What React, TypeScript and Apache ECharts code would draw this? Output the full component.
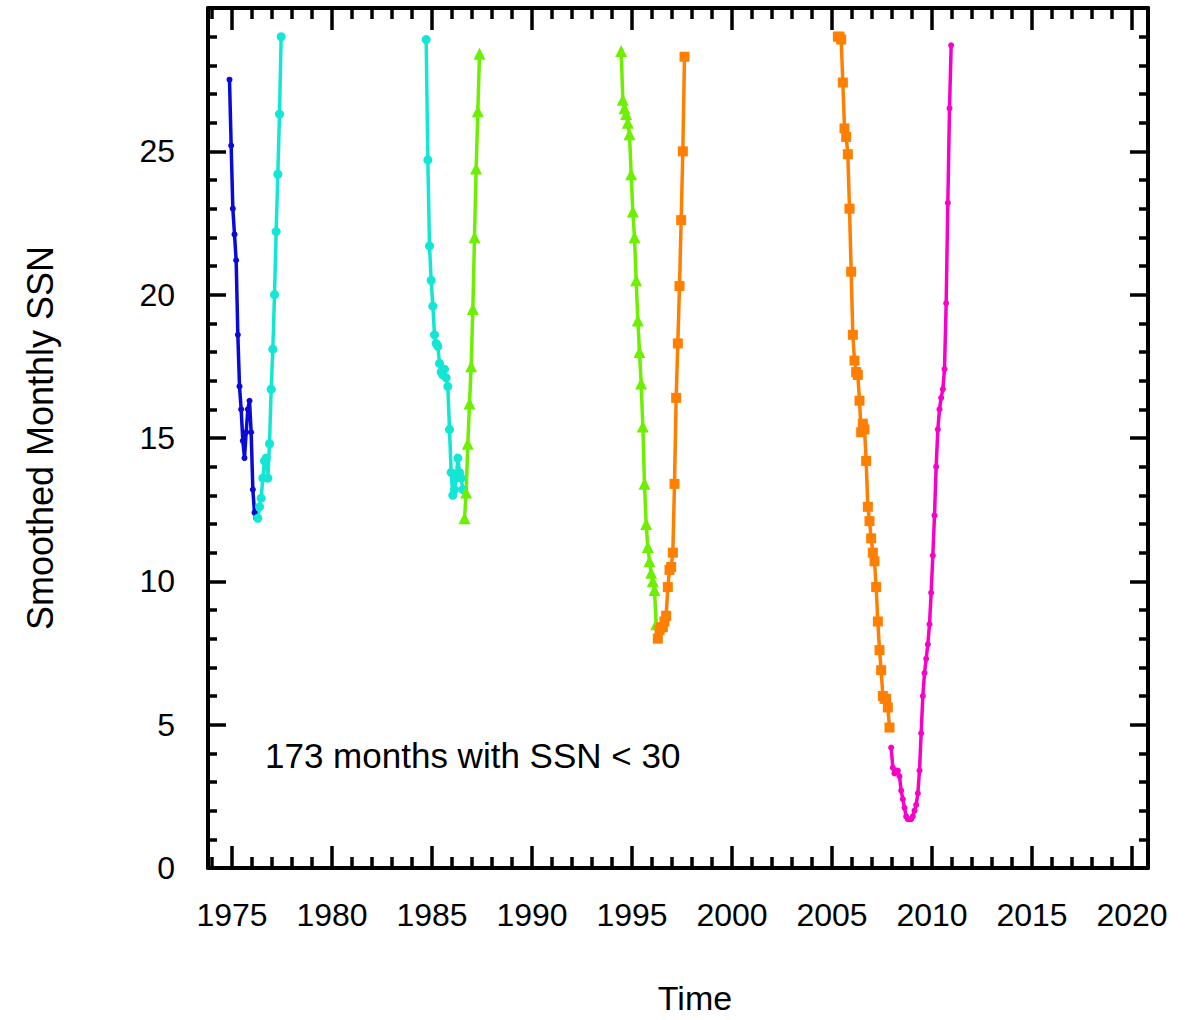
import { useEffect, useRef } from "react";
import * as echarts from "echarts";

// Smoothed monthly sunspot number for every month below 30, grouped by solar cycle.
// Years are mid-month decimal dates.

const cycle20Years = [
  1974.875, 1974.958, 1975.042, 1975.125, 1975.208, 1975.292, 1975.375, 1975.458, 1975.542,
  1975.625, 1975.708, 1975.792, 1975.875, 1975.958, 1976.042, 1976.125, 1976.208,
];
const cycle20Ssn = [
  27.5, 25.2, 23.0, 22.1, 21.2, 18.6, 16.8, 16.0, 14.9, 14.3, 15.2, 16.0, 16.3, 15.2, 13.2, 12.4, 12.2,
];

const cycle21RiseYears = [
  1976.292, 1976.375, 1976.458, 1976.542, 1976.625, 1976.708, 1976.792, 1976.875, 1976.958,
  1977.042, 1977.125, 1977.208, 1977.292, 1977.375, 1977.458,
];
const cycle21RiseSsn = [
  12.2, 12.6, 12.9, 13.6, 14.2, 14.3, 13.6, 14.8, 16.7, 18.1, 20.0, 22.2, 24.2, 26.3, 29.0,
];

const cycle21FallYears = [
  1984.708, 1984.792, 1984.875, 1984.958, 1985.042, 1985.125, 1985.208, 1985.292, 1985.375,
  1985.458, 1985.542, 1985.625, 1985.708, 1985.792, 1985.875, 1985.958, 1986.042, 1986.125,
  1986.208, 1986.292, 1986.375, 1986.458, 1986.542,
];
const cycle21FallSsn = [
  28.9, 24.7, 21.7, 20.5, 19.6, 18.6, 18.3, 18.2, 17.6, 17.3, 17.2, 17.4, 17.1, 16.8, 15.3, 13.8,
  13.0, 13.2, 13.6, 14.3, 13.8, 13.6, 13.2,
];

const cycle22RiseYears = [
  1986.625, 1986.708, 1986.792, 1986.875, 1986.958, 1987.042, 1987.125, 1987.208, 1987.292, 1987.375,
];
const cycle22RiseSsn = [12.2, 13.1, 14.8, 16.2, 17.5, 19.5, 22.0, 24.4, 26.4, 28.4];

const cycle22FallYears = [
  1994.458, 1994.542, 1994.625, 1994.708, 1994.792, 1994.875, 1994.958, 1995.042, 1995.125,
  1995.208, 1995.292, 1995.375, 1995.458, 1995.542, 1995.625, 1995.708, 1995.792, 1995.875,
  1995.958, 1996.042, 1996.125, 1996.208,
];
const cycle22FallSsn = [
  28.5, 26.8, 26.5, 26.3, 26.0, 25.6, 24.2, 22.9, 22.0, 20.5, 19.1, 18.0, 16.9, 15.4, 13.4, 12.0,
  11.2, 10.7, 10.3, 10.0, 9.7, 8.5,
];

const cycle23RiseYears = [
  1996.292, 1996.375, 1996.458, 1996.542, 1996.625, 1996.708, 1996.792, 1996.875, 1996.958,
  1997.042, 1997.125, 1997.208, 1997.292, 1997.375, 1997.458, 1997.542, 1997.625,
];
const cycle23RiseSsn = [
  8.0, 8.3, 8.4, 8.4, 8.6, 8.8, 9.8, 10.4, 10.5, 11.0, 13.4, 16.4, 18.3, 20.3, 22.6, 25.0, 28.3,
];

const cycle23FallYears = [
  2005.292, 2005.375, 2005.458, 2005.542, 2005.625, 2005.708, 2005.792, 2005.875, 2005.958,
  2006.042, 2006.125, 2006.208, 2006.292, 2006.375, 2006.458, 2006.542, 2006.625, 2006.708,
  2006.792, 2006.875, 2006.958, 2007.042, 2007.125, 2007.208, 2007.292, 2007.375, 2007.458,
  2007.542, 2007.625, 2007.708, 2007.792, 2007.875,
];
const cycle23FallSsn = [
  29.0, 29.0, 28.9, 27.4, 25.8, 25.5, 24.9, 23.0, 20.8, 18.6, 17.7, 17.3, 17.2, 16.3, 15.2, 15.5,
  15.3, 14.2, 12.6, 12.1, 11.5, 11.0, 10.7, 9.8, 8.6, 7.6, 6.9, 6.0, 5.9, 5.9, 5.6, 4.9,
];

const cycle24Years = [
  2007.958, 2008.042, 2008.125, 2008.208, 2008.292, 2008.375, 2008.458, 2008.542, 2008.625,
  2008.708, 2008.792, 2008.875, 2008.958, 2009.042, 2009.125, 2009.208, 2009.292, 2009.375,
  2009.458, 2009.542, 2009.625, 2009.708, 2009.792, 2009.875, 2009.958, 2010.042, 2010.125,
  2010.208, 2010.292, 2010.375, 2010.458, 2010.542, 2010.625, 2010.708, 2010.792, 2010.875,
  2010.958,
];
const cycle24Ssn = [
  4.2, 3.5, 3.3, 3.4, 3.4, 3.2, 2.7, 2.4, 2.1, 1.8, 1.7, 1.7, 1.7, 1.8, 2.0, 2.2, 2.6, 3.4, 4.7,
  6.0, 6.8, 7.3, 7.8, 8.5, 9.6, 10.9, 12.3, 14.0, 15.3, 16.0, 16.4, 16.7, 17.4, 19.7, 23.2, 26.5,
  28.7,
];

const xTickYears = [1975, 1980, 1985, 1990, 1995, 2000, 2005, 2010, 2015, 2020];
const yTickValues = [0, 5, 10, 15, 20, 25];

const X_MIN = 1973.8;
const X_MAX = 2020.8;
const Y_MIN = 0;
const Y_MAX = 30;
const SSN_LIMIT = 30;

const FONT = "'Liberation Sans', Arial, Helvetica, sans-serif";
const BLUE = "#0a0ad8";
const CYAN = "#12e6d4";
const GREEN = "#6cf000";
const ORANGE = "#ff7f00";
const MAGENTA = "#f800c8";

type Segment = {
  name: string;
  years: number[];
  ssn: number[];
  color: string;
  symbol: string;
  size: number;
};

const segments: Segment[] = [
  { name: "Cycle 20", years: cycle20Years, ssn: cycle20Ssn, color: BLUE, symbol: "circle", size: 6 },
  { name: "Cycle 21", years: cycle21RiseYears, ssn: cycle21RiseSsn, color: CYAN, symbol: "circle", size: 9 },
  { name: "Cycle 21", years: cycle21FallYears, ssn: cycle21FallSsn, color: CYAN, symbol: "circle", size: 9 },
  { name: "Cycle 22", years: cycle22RiseYears, ssn: cycle22RiseSsn, color: GREEN, symbol: "triangle", size: 12 },
  { name: "Cycle 22", years: cycle22FallYears, ssn: cycle22FallSsn, color: GREEN, symbol: "triangle", size: 12 },
  { name: "Cycle 23", years: cycle23RiseYears, ssn: cycle23RiseSsn, color: ORANGE, symbol: "rect", size: 10 },
  { name: "Cycle 23", years: cycle23FallYears, ssn: cycle23FallSsn, color: ORANGE, symbol: "rect", size: 10 },
  { name: "Cycle 24", years: cycle24Years, ssn: cycle24Ssn, color: MAGENTA, symbol: "circle", size: 6 },
];

const monthCount = segments.reduce((n, s) => n + s.ssn.length, 0);

export default function App() {
  const ref = useRef<HTMLDivElement>(null);

  useEffect(() => {
    if (!ref.current) return;
    const chart = echarts.init(ref.current, null, { renderer: "svg" });

    const frame = { color: "#000", width: 4 };
    const tick = { color: "#000", width: 3.5 };
    const isXTick = (v: number) => xTickYears.some((t) => Math.abs(t - v) < 1e-6);
    const isYTick = (v: number) => yTickValues.some((t) => Math.abs(t - v) < 1e-6);

    const xCommon = {
      type: "value",
      min: X_MIN,
      max: X_MAX,
      minInterval: 5,
      maxInterval: 5,
      axisLine: { show: true, onZero: false, lineStyle: frame },
      axisTick: { show: true, inside: true, length: 22, lineStyle: tick },
      minorTick: { show: true, splitNumber: 5, length: 11, lineStyle: tick },
      splitLine: { show: false },
      minorSplitLine: { show: false },
    };
    const yCommon = {
      type: "value",
      min: Y_MIN,
      max: Y_MAX,
      interval: 5,
      axisLine: { show: true, onZero: false, lineStyle: frame },
      axisTick: { show: true, inside: true, length: 18, lineStyle: tick },
      minorTick: { show: true, splitNumber: 5, length: 9, lineStyle: tick },
      splitLine: { show: false },
      minorSplitLine: { show: false },
    };

    chart.setOption({
      animation: false,
      backgroundColor: "#fff",
      grid: { left: 208, right: 43, top: 8, bottom: 152, containLabel: false, outerBoundsMode: "none" },
      xAxis: [
        {
          ...xCommon,
          position: "bottom",
          name: "Time",
          nameLocation: "middle",
          nameGap: 113,
          nameTextStyle: { fontFamily: FONT, fontSize: 34, color: "#000", padding: [0, 0, 0, 34] },
          axisLabel: {
            show: true,
            margin: 31,
            fontFamily: FONT,
            fontSize: 32,
            color: "#000",
            showMinLabel: false,
            showMaxLabel: false,
            formatter: (v: number) => (isXTick(v) ? String(Math.round(v)) : ""),
          },
        },
        { ...xCommon, position: "top", axisLabel: { show: false } },
      ],
      yAxis: [
        {
          ...yCommon,
          position: "left",
          name: "Smoothed Monthly SSN",
          nameLocation: "middle",
          nameGap: 150,
          nameTextStyle: { fontFamily: FONT, fontSize: 36, color: "#000" },
          axisLabel: {
            show: true,
            margin: 33,
            fontFamily: FONT,
            fontSize: 32,
            color: "#000",
            formatter: (v: number) => (isYTick(v) ? String(v) : ""),
          },
        },
        { ...yCommon, position: "right", axisLabel: { show: false } },
      ],
      series: segments.map((s) => ({
        name: s.name,
        type: "line",
        xAxisIndex: 0,
        yAxisIndex: 0,
        data: s.years.map((y, i) => [y, s.ssn[i]]),
        symbol: s.symbol,
        symbolSize: s.size,
        showSymbol: true,
        lineStyle: { color: s.color, width: 3.5 },
        itemStyle: { color: s.color },
        emphasis: { disabled: true },
        z: 3,
      })),
      graphic: [
        {
          type: "text",
          left: 265,
          top: 738,
          style: {
            text: `${monthCount} months with SSN < ${SSN_LIMIT}`,
            font: `35px ${FONT}`,
            fill: "#000",
          },
        },
      ],
    });

    return () => chart.dispose();
  }, []);

  return (
    <div
      ref={ref}
      style={{ position: "absolute", left: 0, top: 0, width: 1191, height: 1020, background: "#fff" }}
    />
  );
}
